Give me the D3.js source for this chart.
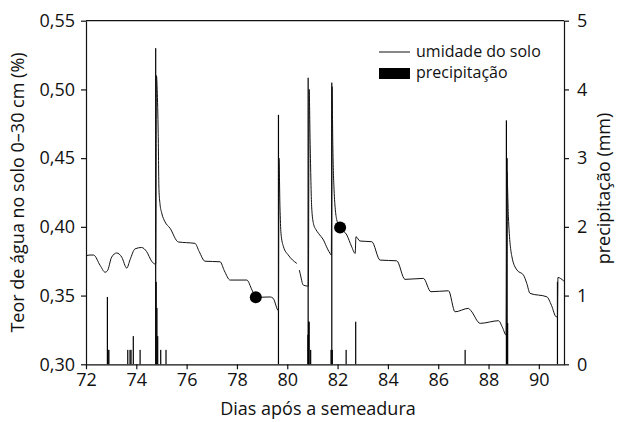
<html>
    <head>
        <meta charset="utf-8">
        <title>Umidade do solo e precipitação</title>
        <style>
            body { margin: 0; background: #fff; }
            svg { display: block; }
            .chart text {
                fill: #111;
                font-family: "Open Sans", "Noto Sans", sans-serif;
            }
            .chart .axis text { font-size: 18px; }
            .chart .axis line, .chart .axis path {
                stroke: #111;
                stroke-width: 1.2;
                fill: none;
            }
            .chart .moisture {
                fill: none;
                stroke: #111;
                stroke-width: 1;
            }
            .chart .rain { fill: #000; }
        </style>
    </head>
    <body>
        <svg class="chart" width="620" height="422"></svg>
        <script src="https://cdn.jsdelivr.net/npm/d3@7"></script>
        <script>
            // dias apos a semeadura, teor de agua (fracao)
            var umidade = [
                [72.0, 0.379], [72.16, 0.3795], [72.3, 0.3795], [72.56, 0.372], [72.76, 0.367],
                [72.85, 0.368], [73.02, 0.378], [73.22, 0.381], [73.42, 0.378], [73.62, 0.370],
                [73.75, 0.376], [73.95, 0.384], [74.21, 0.385], [74.41, 0.382], [74.61, 0.375],
                [74.74, 0.373], [74.77, 0.373], [74.8, 0.51], [74.83, 0.50], [74.87, 0.468],
                [74.90, 0.427], [74.94, 0.417], [75.01, 0.410], [75.14, 0.4037], [75.34, 0.399],
                [75.67, 0.389], [76.0, 0.3885], [76.33, 0.388], [76.5, 0.382], [76.73, 0.375],
                [77.33, 0.3746], [77.5, 0.368], [77.73, 0.3613], [78.39, 0.3613], [78.6, 0.354],
                [78.75, 0.3487], [79.32, 0.349], [79.44, 0.348], [79.65, 0.339], [79.67, 0.45],
                [79.71, 0.4146], [79.75, 0.3953], [79.85, 0.3855], [80.04, 0.3795], [80.38, 0.3734],
                [80.42, null],
                [80.48, 0.3685], [80.51, 0.3662], [80.64, 0.3576], [80.82, 0.3569], [80.84, 0.3569],
                [80.87, 0.50], [80.91, 0.46], [80.97, 0.4146], [81.04, 0.4025], [81.14, 0.398],
                [81.24, 0.3953], [81.44, 0.3904], [81.60, 0.384], [81.70, 0.3807], [81.75, 0.3795],
                [81.78, 0.502], [81.81, 0.46], [81.86, 0.427], [81.97, 0.4049], [82.10, 0.3996],
                [82.37, 0.394], [82.55, 0.386], [82.70, 0.3807], [82.73, 0.3928], [82.89, 0.3897],
                [83.36, 0.3892], [83.69, 0.3758], [84.35, 0.3753], [84.68, 0.3618], [85.41, 0.3625],
                [85.71, 0.3528], [86.41, 0.3535], [86.67, 0.3382], [87.2, 0.3407], [87.3, 0.339],
                [87.67, 0.3298], [88.40, 0.3317], [88.55, 0.327], [88.70, 0.3213], [88.73, 0.44],
                [88.79, 0.4073], [88.93, 0.3782], [89.13, 0.3686], [89.39, 0.3649], [89.52, 0.3589],
                [89.65, 0.3516], [90.32, 0.3491], [90.5, 0.343], [90.69, 0.3346], [90.74, 0.3346],
                [90.76, 0.3632], [90.98, 0.3608], [91.0, 0.3605]
            ];

            // dias, precipitacao (mm)
            var precipitacao = [
                [72.85, 0.98], [72.88, 0.21], [72.91, 0.21],
                [73.66, 0.21], [73.75, 0.21], [73.79, 0.21], [73.88, 0.41], [74.15, 0.21],
                [74.77, 4.6], [74.79, 1.2], [74.82, 0.82], [74.85, 0.41], [74.97, 0.21], [75.18, 0.21],
                [79.65, 3.63],
                [80.82, 0.43], [80.83, 4.17], [80.85, 0.62], [80.87, 0.62], [80.93, 0.21],
                [81.74, 0.21], [81.77, 4.1], [81.79, 0.21],
                [82.34, 0.21], [82.72, 0.62],
                [87.07, 0.21],
                [88.71, 3.55], [88.74, 3.0], [88.76, 0.6],
                [90.74, 1.2]
            ];

            var marcadores = [[78.75, 0.3487], [82.10, 0.3996]];

            var xTicks = [72, 74, 76, 78, 80, 82, 84, 86, 88, 90];
            var yTicks = [0.30, 0.35, 0.40, 0.45, 0.50, 0.55];
            var chuvaTicks = [0, 1, 2, 3, 4, 5];

            var width = 620, height = 422;
            var margin = {top: 20.7, right: 56, bottom: 57.7, left: 86};
            var innerW = width - margin.left - margin.right;
            var innerH = height - margin.top - margin.bottom;

            var xScale = d3.scaleLinear().domain([72, 91]).range([0, innerW]);
            var yScale = d3.scaleLinear().domain([0.30, 0.55]).range([innerH, 0]);
            var rScale = d3.scaleLinear().domain([0, 5]).range([innerH, 0]);

            var virgula = function(d) { return d3.format('.2f')(d).replace('.', ','); };

            var chart = d3.select('.chart');
            var g = chart.append('g')
                .attr('transform', 'translate(' + margin.left + ',' + margin.top + ')');

            // bars (one per hour)
            var barW = 1.2;
            g.selectAll('.rain')
                .data(precipitacao)
                .enter()
                .append('rect')
                .attr('class', 'rain')
                .attr('x', function(d) { return xScale(d[0]) - barW / 2; })
                .attr('y', function(d) { return rScale(d[1]); })
                .attr('width', barW)
                .attr('height', function(d) { return innerH - rScale(d[1]); });

            var line = d3.line()
                .defined(function(d) { return d[1] !== null; })
                .x(function(d) { return xScale(d[0]); })
                .y(function(d) { return yScale(d[1]); })
                .curve(d3.curveMonotoneX);

            g.append('path')
                .datum(umidade)
                .attr('class', 'moisture')
                .attr('d', line);

            g.selectAll('.dot')
                .data(marcadores)
                .enter()
                .append('circle')
                .attr('cx', function(d) { return xScale(d[0]); })
                .attr('cy', function(d) { return yScale(d[1]); })
                .attr('r', 6)
                .style('fill', '#000');

            // axes
            g.append('g')
                .attr('class', 'axis')
                .attr('transform', 'translate(0,' + innerH + ')')
                .call(d3.axisBottom(xScale).tickValues(xTicks).tickSize(5).tickSizeOuter(0).tickPadding(4));

            g.append('g')
                .attr('class', 'axis')
                .call(d3.axisLeft(yScale).tickValues(yTicks).tickFormat(virgula).tickSize(5).tickSizeOuter(0).tickPadding(6));

            g.append('g')
                .attr('class', 'axis')
                .attr('transform', 'translate(' + innerW + ',0)')
                .call(d3.axisRight(rScale).tickValues(chuvaTicks).tickFormat(d3.format('d')).tickSize(5).tickSizeOuter(0).tickPadding(8));

            g.append('line')
                .attr('x1', 0).attr('x2', innerW)
                .attr('y1', 0).attr('y2', 0)
                .style('stroke', '#111').style('stroke-width', 1.2);

            // titles
            chart.append('text')
                .attr('x', 318)
                .attr('y', 415)
                .attr('text-anchor', 'middle')
                .style('font-size', '18px')
                .text('Dias após a semeadura');

            chart.append('text')
                .attr('transform', 'translate(24,' + (margin.top + innerH / 2) + ') rotate(-90)')
                .attr('text-anchor', 'middle')
                .style('font-size', '18px')
                .text('Teor de água no solo 0–30 cm (%)');

            chart.append('text')
                .attr('transform', 'translate(610,' + (margin.top + innerH / 2 - 4) + ') rotate(-90)')
                .attr('text-anchor', 'middle')
                .style('font-size', '18px')
                .text('precipitação (mm)');

            // legend
            var legend = chart.append('g').attr('transform', 'translate(379,0)');
            legend.append('line')
                .attr('x1', 0).attr('x2', 31)
                .attr('y1', 52).attr('y2', 52)
                .style('stroke', '#111').style('stroke-width', 1);
            legend.append('rect')
                .attr('x', 0).attr('y', 68)
                .attr('width', 31).attr('height', 11)
                .style('fill', '#000');
            legend.append('text')
                .attr('x', 37).attr('y', 57)
                .style('font-size', '16px')
                .text('umidade do solo');
            legend.append('text')
                .attr('x', 37).attr('y', 78)
                .style('font-size', '16px')
                .text('precipitação');
        </script>
    </body>
</html>
